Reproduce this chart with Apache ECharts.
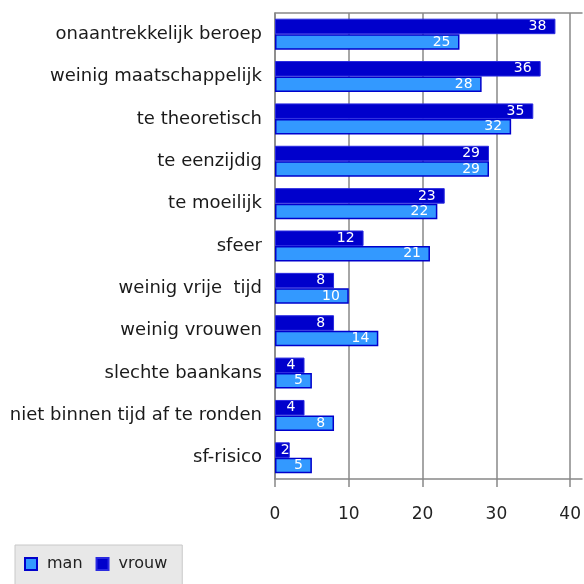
<!DOCTYPE html>
<html><head><meta charset="utf-8">
<script src="https://cdn.jsdelivr.net/npm/echarts@6/dist/echarts.min.js"></script>
<style>html,body{margin:0;padding:0;background:#fff}#c{width:584px;height:584px}</style>
</head><body><div id="c"></div>
<script>
const categories = ['onaantrekkelijk beroep','weinig maatschappelijk','te theoretisch','te eenzijdig','te moeilijk','sfeer','weinig vrije  tijd','weinig vrouwen','slechte baankans','niet binnen tijd af te ronden','sf-risico'];
const vrouw = [38,36,35,29,23,12,8,8,4,4,2];
const man = [25,28,32,29,22,21,10,14,5,8,5];
const xTicks = [0,10,20,30,40];

const chart = echarts.init(document.getElementById('c'), null, {renderer:'canvas'});
const labelStyle = {show:true, position:'insideRight', color:'#fff', fontSize:14, fontFamily:'DejaVu Sans', distance:9};
const withLabels = arr => arr.map(v => ({value:v, label:{distance: v < 3 ? 0 : 9}}));
const lineC = '#888';
chart.setOption({
  animation:false,
  legend:{
    data:['man','vrouw'], left:15, top:545, orient:'horizontal',
    backgroundColor:'#e8e8e8', borderColor:'#c8c8c8', borderWidth:1, borderRadius:0,
    padding:[11,15,20,9], itemWidth:12, itemHeight:12, itemGap:13,
    textStyle:{fontSize:16, color:'#222', fontFamily:'DejaVu Sans', padding:[0,0,0,5]},
    icon:'rect'
  },
  grid:{left:275, top:13, right:0, bottom:105, show:false},
  xAxis:[{
    type:'value', min:0, max:41.6, interval:10, position:'bottom',
    axisLine:{show:true, lineStyle:{color:lineC, width:1.5}},
    axisTick:{show:true, length:8, lineStyle:{color:lineC, width:1.5}, customValues:xTicks},
    splitLine:{show:true, lineStyle:{color:lineC, width:1.5}},
    axisLabel:{margin:27, fontSize:17, color:'#222', fontFamily:'DejaVu Sans', customValues:xTicks}
  },{
    type:'value', min:0, max:41.6, position:'top',
    axisLine:{show:true, lineStyle:{color:lineC, width:1.5}},
    axisTick:{show:false}, axisLabel:{show:false}, splitLine:{show:false}
  }],
  yAxis:{
    type:'category', data:categories, inverse:true,
    axisLine:{show:true, lineStyle:{color:lineC, width:1.5}},
    axisTick:{show:false},
    axisLabel:{margin:13, fontSize:18, color:'#1a1a1a', fontFamily:'DejaVu Sans'}
  },
  series:[
    {name:'vrouw', type:'bar', data:withLabels(vrouw), barWidth:15.5, barGap:'0%',
     itemStyle:{color:'#0000cc', borderColor:'#2a2ae0', borderWidth:1}, label:labelStyle},
    {name:'man', type:'bar', data:withLabels(man), barWidth:15.5, barGap:'0%',
     itemStyle:{color:'#3399ff', borderColor:'#0000cc', borderWidth:1.5}, label:labelStyle}
  ]
});
</script></body></html>
